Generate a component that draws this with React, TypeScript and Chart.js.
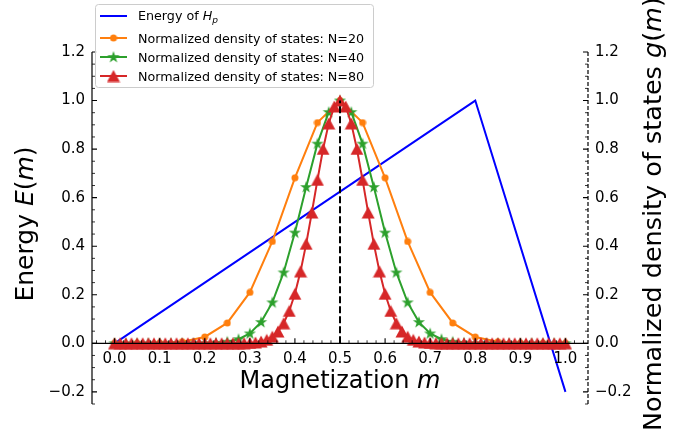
import React, { useEffect, useRef } from "react";
import { Chart, registerables } from "chart.js";

Chart.register(...registerables);

// ---------------- data ----------------
const energyM = [0, 0.8, 1.0];
const energyE = [0, 1.0, -0.2];

const g20 = [
  0, 0.0001, 0.001, 0.0062, 0.0262, 0.0839, 0.2098, 0.4196, 0.6818, 0.9091, 1,
  0.9091, 0.6818, 0.4196, 0.2098, 0.0839, 0.0262, 0.0062, 0.001, 0.0001, 0,
];

const g40 = [
  0, 0, 0, 0, 0, 0, 0, 0.0001, 0.0006, 0.002, 0.0062, 0.0168, 0.0405, 0.0873,
  0.1684, 0.2918, 0.456, 0.6437, 0.8225, 0.9524, 1, 0.9524, 0.8225, 0.6437,
  0.456, 0.2918, 0.1684, 0.0873, 0.0405, 0.0168, 0.0062, 0.002, 0.0006, 0.0001,
  0, 0, 0, 0, 0, 0, 0,
];

const g80 = [
  0, 0, 0, 0, 0, 0, 0, 0, 0, 0, 0, 0, 0, 0, 0, 0, 0, 0, 0, 0, 0, 0.0001,
  0.0003, 0.0006, 0.0015, 0.0034, 0.0072, 0.0143, 0.0271, 0.0485, 0.0825,
  0.1331, 0.2038, 0.2964, 0.4098, 0.5386, 0.6732, 0.8006, 0.9059, 0.9756, 1,
  0.9756, 0.9059, 0.8006, 0.6732, 0.5386, 0.4098, 0.2964, 0.2038, 0.1331,
  0.0825, 0.0485, 0.0271, 0.0143, 0.0072, 0.0034, 0.0015, 0.0006, 0.0003,
  0.0001, 0, 0, 0, 0, 0, 0, 0, 0, 0, 0, 0, 0, 0, 0, 0, 0, 0, 0, 0, 0, 0,
];

const vlineM = [0.5, 0.5];
const vlineG = [0, 1];

const yTickValues = [-0.2, 0, 0.2, 0.4, 0.6, 0.8, 1.0, 1.2];
const xTickValues = [0, 0.1, 0.2, 0.3, 0.4, 0.5, 0.6, 0.7, 0.8, 0.9, 1.0];

const legendLabels = [
  "Energy of ",
  "Normalized density of states: N=20",
  "Normalized density of states: N=40",
  "Normalized density of states: N=80",
];

const BLUE = "#0000ff";
const ORANGE = "#ff7f0e";
const GREEN = "#2ca02c";
const RED = "#d62728";
const FONT = "'DejaVu Sans'";

// ---------------- marker images ----------------
function makeCircle(color: string) {
  const c = document.createElement("canvas");
  c.width = 8;
  c.height = 8;
  const g = c.getContext("2d")!;
  g.fillStyle = color;
  g.beginPath();
  g.arc(4, 4, 3.5, 0, Math.PI * 2);
  g.fill();
  return c;
}

function makeStar(color: string) {
  const c = document.createElement("canvas");
  c.width = 14;
  c.height = 14;
  const g = c.getContext("2d")!;
  const R = 6.4;
  const r = R * 0.381966;
  g.fillStyle = color;
  g.beginPath();
  for (let i = 0; i < 10; i++) {
    const a = -Math.PI / 2 + (i * Math.PI) / 5;
    const rr = i % 2 === 0 ? R : r;
    const px = 7 + rr * Math.cos(a);
    const py = 7.3 + rr * Math.sin(a);
    if (i === 0) g.moveTo(px, py);
    else g.lineTo(px, py);
  }
  g.closePath();
  g.fill();
  return c;
}

function makeTriangle(color: string) {
  const c = document.createElement("canvas");
  c.width = 14;
  c.height = 13;
  const g = c.getContext("2d")!;
  g.fillStyle = color;
  g.beginPath();
  g.moveTo(7, 0.5);
  g.lineTo(13.5, 12.5);
  g.lineTo(0.5, 12.5);
  g.closePath();
  g.fill();
  return c;
}

function fmt(v: number) {
  const s = Math.abs(v).toFixed(1);
  return v < -1e-9 ? "\u2212" + s : s;
}

type Run = { t: string; font: string; dy?: number };

function runsWidth(ctx: CanvasRenderingContext2D, runs: Run[]) {
  let w = 0;
  for (const r of runs) {
    ctx.font = r.font;
    w += ctx.measureText(r.t).width;
  }
  return w;
}

function drawRuns(ctx: CanvasRenderingContext2D, runs: Run[], x: number, y: number) {
  let cx = x;
  for (const r of runs) {
    ctx.font = r.font;
    ctx.fillText(r.t, cx, y + (r.dy || 0));
    cx += ctx.measureText(r.t).width;
  }
}

export default function App() {
  const ref = useRef<HTMLCanvasElement | null>(null);

  useEffect(() => {
    if (!ref.current) return;
    const circle = makeCircle(ORANGE);
    const star = makeStar(GREEN);
    const tri = makeTriangle(RED);

    const decor = {
      id: "decor",
      afterDraw(chart: any) {
        const { ctx, chartArea: ca, scales } = chart;
        const xs = scales.x;
        const ys = scales.y;
        const y0 = ys.getPixelForValue(0);
        ctx.save();
        ctx.strokeStyle = "#000";
        ctx.fillStyle = "#000";

        // x axis line at y = 0
        ctx.lineWidth = 1.2;
        ctx.beginPath();
        ctx.moveTo(ca.left, y0);
        ctx.lineTo(ca.right, y0);
        ctx.stroke();
        // left spine
        ctx.beginPath();
        ctx.moveTo(ca.left, ca.top);
        ctx.lineTo(ca.left, ca.bottom);
        ctx.stroke();
        // right spine dashed
        ctx.setLineDash([4, 2]);
        ctx.beginPath();
        ctx.moveTo(ca.right, ca.top);
        ctx.lineTo(ca.right, ca.bottom);
        ctx.stroke();
        ctx.setLineDash([]);

        // y ticks (inward) both sides
        for (let i = -5; i <= 24; i++) {
          const v = i * 0.05;
          const p = ys.getPixelForValue(v);
          const major = i % 4 === 0;
          const len = major ? 5 : 3;
          ctx.lineWidth = major ? 1.1 : 0.8;
          ctx.beginPath();
          ctx.moveTo(ca.left, p);
          ctx.lineTo(ca.left + len, p);
          ctx.moveTo(ca.right, p);
          ctx.lineTo(ca.right - len, p);
          ctx.stroke();
        }
        // x ticks (inward = upward from y=0)
        for (let i = -2; i <= 52; i++) {
          const v = i * 0.02;
          const p = xs.getPixelForValue(v);
          const major = i % 5 === 0;
          const len = major ? 5 : 3;
          ctx.lineWidth = major ? 1.1 : 0.8;
          ctx.beginPath();
          ctx.moveTo(p, y0);
          ctx.lineTo(p, y0 - len);
          ctx.stroke();
        }

        // x tick labels
        ctx.font = `15px ${FONT}`;
        ctx.textAlign = "center";
        ctx.textBaseline = "alphabetic";
        for (const v of xTickValues) {
          ctx.fillText(fmt(v), xs.getPixelForValue(v), y0 + 20);
        }

        ctx.textAlign = "left";
        // x title
        const xr: Run[] = [
          { t: "Magnetization ", font: `24px ${FONT}` },
          { t: "m", font: `italic 24px ${FONT}` },
        ];
        const xw = runsWidth(ctx, xr);
        drawRuns(ctx, xr, (ca.left + ca.right) / 2 - xw / 2, 388);

        // left title
        const lr: Run[] = [
          { t: "Energy ", font: `25px ${FONT}` },
          { t: "E", font: `italic 25px ${FONT}` },
          { t: "(", font: `25px ${FONT}` },
          { t: "m", font: `italic 25px ${FONT}` },
          { t: ")", font: `25px ${FONT}` },
        ];
        ctx.save();
        ctx.translate(33, 224);
        ctx.rotate(-Math.PI / 2);
        drawRuns(ctx, lr, -runsWidth(ctx, lr) / 2, 0);
        ctx.restore();
        // right title (starts near the bottom, runs upward)
        const rr: Run[] = [
          { t: "Normalized density of states ", font: `25.5px ${FONT}` },
          { t: "g", font: `italic 25.5px ${FONT}` },
          { t: "(", font: `25.5px ${FONT}` },
          { t: "m", font: `italic 25.5px ${FONT}` },
          { t: ")", font: `25.5px ${FONT}` },
        ];
        ctx.save();
        ctx.translate(661, 431);
        ctx.rotate(-Math.PI / 2);
        drawRuns(ctx, rr, 0, 0);
        ctx.restore();

        // legend
        ctx.fillStyle = "rgba(255,255,255,0.85)";
        ctx.strokeStyle = "#cccccc";
        ctx.lineWidth = 1;
        ctx.beginPath();
        ctx.roundRect(95.5, 4.5, 278, 83, 3);
        ctx.fill();
        ctx.stroke();

        const hx0 = 100;
        const hx1 = 127;
        const hxm = (hx0 + hx1) / 2;
        const rows = [
          { y: 16, base: 20, color: BLUE, img: null as any },
          { y: 38, base: 43, color: ORANGE, img: circle },
          { y: 57, base: 62, color: GREEN, img: star },
          { y: 76, base: 81, color: RED, img: tri },
        ];
        rows.forEach((r, i) => {
          ctx.strokeStyle = r.color;
          ctx.lineWidth = 2;
          ctx.beginPath();
          ctx.moveTo(hx0, r.y);
          ctx.lineTo(hx1, r.y);
          ctx.stroke();
          if (r.img) {
            ctx.drawImage(r.img, hxm - r.img.width / 2, r.y - r.img.height / 2);
          }
          ctx.fillStyle = "#000";
          if (i === 0) {
            drawRuns(
              ctx,
              [
                { t: legendLabels[0], font: `12.7px ${FONT}` },
                { t: "H", font: `italic 12.7px ${FONT}` },
                { t: "p", font: `italic 9px ${FONT}`, dy: 3 },
              ],
              138,
              r.base
            );
          } else {
            ctx.font = `12.7px ${FONT}`;
            ctx.fillText(legendLabels[i], 138, r.base);
          }
        });

        ctx.restore();
      },
    };

    const yScale = (pos: "left" | "right", width: number) => ({
      type: "linear" as const,
      position: pos,
      min: -0.25,
      max: 1.2,
      afterBuildTicks: (s: any) => {
        s.ticks = yTickValues.map((v) => ({ value: v }));
      },
      afterFit: (s: any) => {
        s.width = width;
      },
      grid: { display: false, drawTicks: false },
      border: { display: false },
      ticks: {
        color: "#000",
        padding: 7,
        font: { family: "DejaVu Sans", size: 15 },
        callback: (v: any) => fmt(Number(v)),
      },
    });

    const chart = new Chart(ref.current, {
      type: "line",
      data: {
        datasets: [
          {
            label: "Energy of H_p",
            data: energyM.map((m, i) => ({ x: m, y: energyE[i] })),
            borderColor: BLUE,
            borderWidth: 2,
            pointRadius: 0,
            yAxisID: "y",
            order: 5,
          },
          {
            label: legendLabels[1],
            data: g20.map((g, i) => ({ x: i / 20, y: g })),
            borderColor: ORANGE,
            backgroundColor: ORANGE,
            borderWidth: 2,
            pointStyle: circle as any,
            pointRadius: 4,
            yAxisID: "y2",
            order: 4,
          },
          {
            label: legendLabels[2],
            data: g40.map((g, i) => ({ x: i / 40, y: g })),
            borderColor: GREEN,
            backgroundColor: GREEN,
            borderWidth: 2,
            pointStyle: star as any,
            pointRadius: 5,
            yAxisID: "y2",
            order: 3,
          },
          {
            label: legendLabels[3],
            data: g80.map((g, i) => ({ x: i / 80, y: g })),
            borderColor: RED,
            backgroundColor: RED,
            borderWidth: 2,
            pointStyle: tri as any,
            pointRadius: 5,
            yAxisID: "y2",
            order: 2,
          },
          {
            label: "m = 0.5",
            data: vlineM.map((m, i) => ({ x: m, y: vlineG[i] })),
            borderColor: "#000",
            borderWidth: 2,
            borderDash: [7, 3],
            pointRadius: 0,
            yAxisID: "y2",
            order: 1,
          },
        ],
      },
      options: {
        animation: false,
        responsive: false,
        maintainAspectRatio: false,
        layout: { padding: { top: 52, bottom: 33, left: 0, right: 0 } },
        elements: { line: { tension: 0 } },
        plugins: {
          legend: { display: false },
          tooltip: { enabled: false },
        },
        scales: {
          x: { type: "linear", min: -0.05, max: 1.05, display: false },
          y: yScale("left", 92),
          y2: yScale("right", 89),
        },
      },
      plugins: [decor],
    });

    return () => chart.destroy();
  }, []);

  return (
    <div style={{ position: "absolute", left: 0, top: 0, width: 677, height: 437, background: "#fff" }}>
      <canvas ref={ref} width={677} height={437} style={{ width: 677, height: 437 }} />
    </div>
  );
}
